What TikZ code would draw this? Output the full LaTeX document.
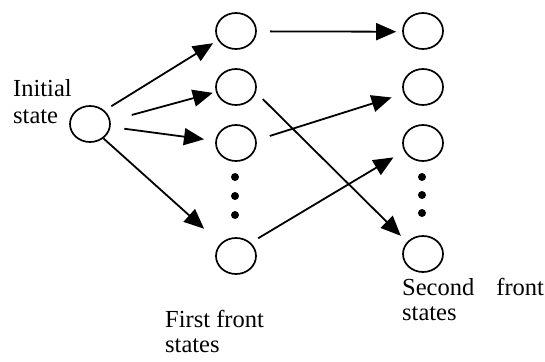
\documentclass[tikz,border=0pt]{standalone}
\usepackage{fontspec}
\setmainfont{Liberation Serif}
\usetikzlibrary{arrows.meta,shapes.geometric}
\tikzset{
  state/.style={ellipse,draw,line width=1.7pt,minimum width=40pt,minimum height=36pt,inner sep=0pt},
  arr/.style={line width=1.8pt,-{Triangle[length=20pt,width=17pt]}},
  dot/.style={circle,fill=black,minimum size=8pt,inner sep=0pt},
  lbl/.style={font=\fontsize{24.5}{25}\selectfont,inner sep=0pt,align=left,anchor=base west}
}
\begin{document}
\begin{tikzpicture}[x=1pt,y=-1pt]
\useasboundingbox (0,0) rectangle (545,361);
% initial state
\node[state] (i) at (90,124) {};
% first front states
\node[state] (a1) at (236,31) {};
\node[state] (a2) at (236,87) {};
\node[state] (a3) at (236,143) {};
\node[state] (a4) at (236,256) {};
\node[dot] (ad1) at (235,177) {};
\node[dot] (ad2) at (235,196) {};
\node[dot] (ad3) at (235,215) {};
% second front states
\node[state] (b1) at (423,31) {};
\node[state] (b2) at (423,87) {};
\node[state] (b3) at (423,143) {};
\node[state] (b4) at (423,254) {};
\node[dot] (bd1) at (422,177) {};
\node[dot] (bd2) at (422,195) {};
\node[dot] (bd3) at (422,213) {};
% labels (anchored at the baseline of their last line)
\node[lbl,font=\fontsize{24.5}{26.5}\selectfont] (li) at (13,123) {Initial\\state};
\node[lbl] (lf) at (165,352) {First front\\states};
\node[lbl] (ls) at (402,320) {Second\hspace{0.9em}front\\states};
% transitions
\draw[arr,shorten <=8pt,shorten >=5.6pt] (i.43.5) -- (a1.207.6);
\draw[arr,shorten <=22pt,shorten >=3.2pt] (i.9.5) -- (a2.194.6);
\draw[arr,shorten <=13.8pt,shorten >=11.4pt] (i.-8.4) -- (a3.174.6);
\draw[arr,shorten >=22pt] (i.-47.3) -- (a4.141.8);
\draw[arr,shorten <=13.3pt,shorten >=6pt] (a1.-1.7) -- (b1.182);
\draw[arr,shorten <=9.6pt,shorten >=8.7pt] (a2.-15.4) -- (b4.143.5);
\draw[arr,shorten <=13.8pt,shorten >=12.5pt] (a3.8.4) -- (b2.199.5);
\draw[arr,shorten <=8.6pt,shorten >=12.4pt] (a4.42.1) -- (b3.203.4);
\end{tikzpicture}
\end{document}
